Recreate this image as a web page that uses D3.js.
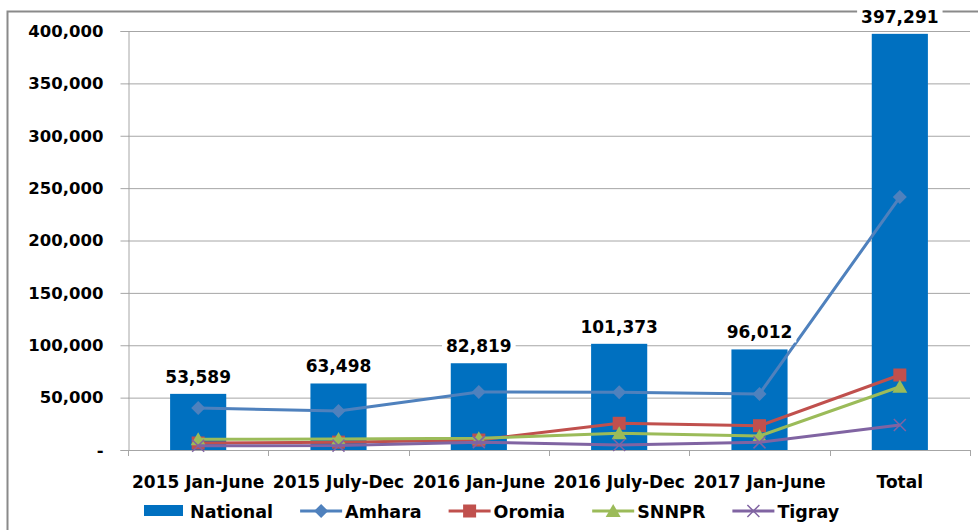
<!DOCTYPE html>
<html>
<head>
<meta charset="utf-8">
<script src="https://cdn.jsdelivr.net/npm/d3@7"></script>
<style>
html,body{margin:0;padding:0;background:#fff;}
svg{display:block;}
text{font-family:"DejaVu Sans",Verdana,sans-serif;font-weight:bold;fill:#000;}
</style>
</head>
<body>
<svg id="chart" width="978" height="530"></svg>
<script>
const categories = ["2015 Jan-June","2015 July-Dec","2016 Jan-June","2016 July-Dec","2017 Jan-June","Total"];
const national = [53589, 63498, 82819, 101373, 96012, 397291];
const amhara = [40100, 37200, 55400, 55100, 53500, 241500];
const oromia = [6700, 7500, 9500, 25500, 23200, 71600];
const snnpr = [10200, 10500, 11100, 15900, 13400, 60400];
const tigray = [4100, 4200, 7500, 4800, 7300, 23900];
const yTicks = [0, 50000, 100000, 150000, 200000, 250000, 300000, 350000, 400000];
const seriesNames = ["National", "Amhara", "Oromia", "SNNPR", "Tigray"];

const colors = {National:"#0070C0", Amhara:"#4F81BD", Oromia:"#C0504D", SNNPR:"#9BBB59", Tigray:"#8064A2"};
const lineSeries = [
  {name:"Amhara", values:amhara, marker:"diamond"},
  {name:"Oromia", values:oromia, marker:"square"},
  {name:"SNNPR", values:snnpr, marker:"triangle"},
  {name:"Tigray", values:tigray, marker:"cross"}
];

const svg = d3.select("#chart");
const plotLeft = 128, plotRight = 970, plotTop = 31, plotBottom = 450;

// outer border
svg.append("rect").attr("x",7.5).attr("y",11.5).attr("width",990).attr("height",540)
  .attr("fill","none").attr("stroke","#8a8a8a").attr("stroke-width",2);

const x = d3.scaleBand().domain(categories).range([plotLeft,plotRight]).paddingInner(0.6).paddingOuter(0.3);
const xStep = d3.scaleBand().domain(categories).range([plotLeft,plotRight]).padding(0);
const y = d3.scaleLinear().domain([0,400000]).range([plotBottom,plotTop]);

// gridlines
svg.append("g").selectAll("line").data(yTicks.filter(d=>d>0)).join("line")
  .attr("x1",plotLeft).attr("x2",plotRight).attr("y1",d=>y(d)+0.5).attr("y2",d=>y(d)+0.5)
  .attr("stroke","#a6a6a6").attr("stroke-width",1);

// y axis
const yAxis = d3.axisLeft(y).tickValues(yTicks).tickSize(8).tickPadding(17)
  .tickFormat(d => d === 0 ? "-" : d3.format(",")(d));
const gy = svg.append("g").attr("transform",`translate(${plotLeft+0.5},0)`).call(yAxis);
gy.select(".domain").attr("stroke","#a6a6a6");
gy.selectAll(".tick line").attr("stroke","#a6a6a6");
gy.selectAll(".tick text").style("font-size","16.5px").style("font-weight","bold").attr("fill","#000");

// x axis baseline & ticks at boundaries
const bounds = categories.map(c => xStep(c)).concat([plotRight]);
svg.append("line").attr("x1",plotLeft).attr("x2",plotRight).attr("y1",plotBottom+0.5).attr("y2",plotBottom+0.5)
  .attr("stroke","#a6a6a6");
svg.append("g").selectAll("line").data(bounds).join("line")
  .attr("x1",d=>Math.round(d)+0.5).attr("x2",d=>Math.round(d)+0.5)
  .attr("y1",plotBottom).attr("y2",plotBottom+6).attr("stroke","#a6a6a6");
svg.append("g").selectAll("text").data(categories).join("text")
  .attr("x",d=>xStep(d)+xStep.bandwidth()/2).attr("y",488)
  .attr("text-anchor","middle").style("font-size","17px").text(d=>d);

// bars
svg.append("g").selectAll("rect").data(categories).join("rect")
  .attr("x",d=>x(d)).attr("width",x.bandwidth())
  .attr("y",(d,i)=>y(national[i])).attr("height",(d,i)=>plotBottom-y(national[i]))
  .attr("fill",colors.National);

// lines
const line = d3.line().x((d,i)=>xStep(categories[i])+xStep.bandwidth()/2).y(d=>y(d));
function drawMarker(g, type, color, cx, cy){
  if(type==="diamond"){
    g.append("path").attr("d",`M${cx},${cy-7}L${cx+7},${cy}L${cx},${cy+7}L${cx-7},${cy}Z`).attr("fill",color);
  } else if(type==="square"){
    g.append("rect").attr("x",cx-6.5).attr("y",cy-6.5).attr("width",13).attr("height",13).attr("fill",color);
  } else if(type==="triangle"){
    g.append("path").attr("d",`M${cx},${cy-7}L${cx+7.5},${cy+6}L${cx-7.5},${cy+6}Z`).attr("fill",color);
  } else if(type==="cross"){
    g.append("path").attr("d",`M${cx-6},${cy-6}L${cx+6},${cy+6}M${cx+6},${cy-6}L${cx-6},${cy+6}`)
      .attr("stroke",color).attr("stroke-width",1.5).attr("fill","none");
  }
}
lineSeries.forEach(s=>{
  const g = svg.append("g");
  g.append("path").datum(s.values).attr("d",line).attr("fill","none")
    .attr("stroke",colors[s.name]).attr("stroke-width",3).attr("stroke-linejoin","round");
  s.values.forEach((v,i)=>{
    drawMarker(g, s.marker, colors[s.name], xStep(categories[i])+xStep.bandwidth()/2, y(v));
  });
});

// bar labels
const lbl = svg.append("g");
categories.forEach((c,i)=>{
  const cx = x(c)+x.bandwidth()/2;
  const t = lbl.append("text").attr("x",cx).attr("y",y(national[i])-11)
    .attr("text-anchor","middle").style("font-size","17px").text(d3.format(",")(national[i]));
  const bb = t.node().getBBox();
  lbl.insert("rect","text").attr("x",bb.x-4).attr("y",bb.y).attr("width",bb.width+8).attr("height",bb.height)
    .attr("fill","#fff");
});

// legend
const leg = svg.append("g");
let lx = 144;
const ly = 511;
seriesNames.forEach(name=>{
  if(name==="National"){
    leg.append("rect").attr("x",lx).attr("y",ly-6).attr("width",39).attr("height",11).attr("fill",colors.National);
    lx += 46;
  } else {
    const s = lineSeries.find(d=>d.name===name);
    leg.append("line").attr("x1",lx).attr("x2",lx+42).attr("y1",ly).attr("y2",ly)
      .attr("stroke",colors[name]).attr("stroke-width",3);
    drawMarker(leg, s.marker, colors[name], lx+21, ly);
    lx += 45;
  }
  const t = leg.append("text").attr("x",lx).attr("y",ly+6.5).style("font-size","17.5px").text(name);
  lx += t.node().getComputedTextLength() + 27;
});
</script>
</body>
</html>
